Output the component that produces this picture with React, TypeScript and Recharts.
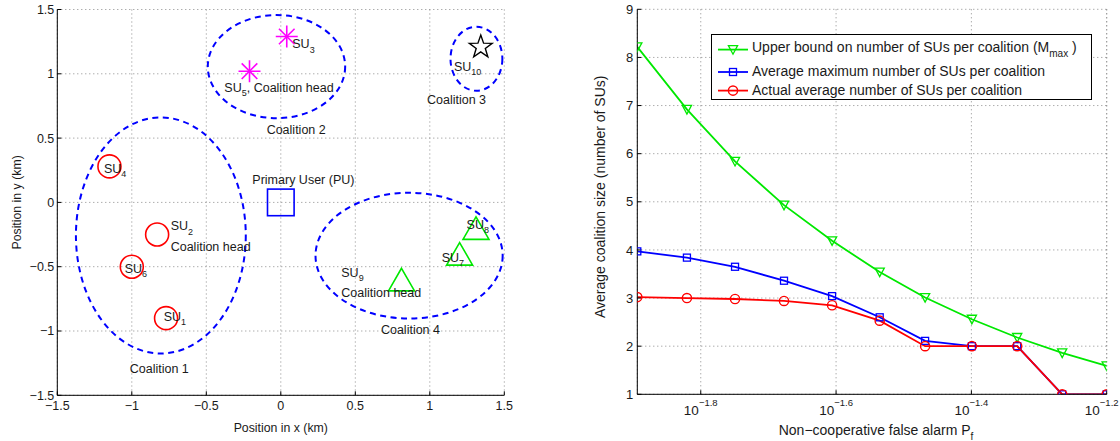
import React from "react";
import { CartesianGrid, Label, Legend, Line, LineChart, ReferenceArea, Scatter, ScatterChart, XAxis, YAxis } from "recharts";

const FONT = '"Liberation Sans", Arial, Helvetica, sans-serif';
const INK = "#1a1a1a";

// ---- left panel: SU positions in km ----
const coalition1Sus = [
  { x: -0.77, y: -0.9 },
  { x: -0.83, y: -0.25 },
  { x: -1.15, y: 0.28 },
  { x: -1.0, y: -0.5 },
];
const coalition2Sus = [
  { x: 0.04, y: 1.29 },
  { x: -0.21, y: 1.02 },
];
const coalition3Sus = [{ x: 1.342, y: 1.208 }];
const coalition4Sus = [
  { x: 1.2, y: -0.4 },
  { x: 1.31, y: -0.2 },
  { x: 0.81, y: -0.6 },
];
const primaryUser = [{ x: 0, y: 0 }];

// dashed coalition ellipses: centre and half-axes (km)
const coalitionShapes = [
  { cx: -0.805, cy: -0.257, rx: 0.57, ry: 0.918 },
  { cx: -0.029, cy: 1.056, rx: 0.461, ry: 0.401 },
  { cx: 1.313, cy: 1.117, rx: 0.174, ry: 0.249 },
  { cx: 0.861, cy: -0.414, rx: 0.628, ry: 0.489 },
];

// text annotations, anchored at text start / baseline (km)
const annotations = [
  { x: 0.077, y: 1.198, text: "SU", sub: "3" },
  { x: -0.379, y: 0.86, text: "SU", sub: "5", tail: ", Coalition head" },
  { x: 1.162, y: 1.024, text: "SU", sub: "10" },
  { x: 0.981, y: 0.762, text: "Coalition 3" },
  { x: -0.095, y: 0.529, text: "Coalition 2" },
  { x: -1.187, y: 0.23, text: "SU", sub: "4" },
  { x: -0.191, y: 0.14, text: "Primary User (PU)" },
  { x: -0.739, y: -0.216, text: "SU", sub: "2" },
  { x: -0.739, y: -0.377, text: "Coalition head" },
  { x: -1.048, y: -0.548, text: "SU", sub: "6" },
  { x: 0.406, y: -0.579, text: "SU", sub: "9" },
  { x: 0.406, y: -0.735, text: "Coalition head" },
  { x: 1.08, y: -0.462, text: "SU", sub: "7" },
  { x: 1.247, y: -0.206, text: "SU", sub: "8" },
  { x: -0.786, y: -0.922, text: "SU", sub: "1" },
  { x: 0.672, y: -1.02, text: "Coalition 4" },
  { x: -1.014, y: -1.326, text: "Coalition 1" },
];

const kmTicks = [-1.5, -1, -0.5, 0, 0.5, 1, 1.5];

// ---- right panel ----
const pf = [0.01277, 0.01512, 0.01781, 0.02104, 0.02478, 0.02914, 0.03401, 0.03988, 0.04653, 0.05423, 0.0631];
const upperBound = [8.22, 6.92, 5.84, 4.93, 4.19, 3.54, 3.01, 2.56, 2.18, 1.86, 1.59];
const avgMaxSize = [3.97, 3.84, 3.65, 3.36, 3.04, 2.6, 2.11, 2.0, 2.0, 1.0, 1.0];
const actualAvgSize = [3.02, 3.0, 2.98, 2.94, 2.85, 2.53, 2.0, 2.0, 2.0, 1.0, 1.0];
const pfTicks = [0.015849, 0.025119, 0.039811, 0.063096];
const pfTickExp = ["\u22121.8", "\u22121.6", "\u22121.4", "\u22121.2"];
const sizeTicks = [1, 2, 3, 4, 5, 6, 7, 8, 9];

const sizeData = pf.map((p, i) => ({ pf: p, upper: upperBound[i], avgMax: avgMaxSize[i], actual: actualAvgSize[i] }));

const GREEN = "#00e800";
const BLUE = "#0000ff";
const RED = "#ff0000";

const fmtKm = (v: number) => (v < 0 ? "\u2212" + Math.abs(v) : String(v));
const blank = () => "";

// ---- marker shapes ----
function RedCircle(p: any) {
  return <circle cx={p.cx} cy={p.cy} r={11.5} fill="none" stroke={RED} strokeWidth={1.6} />;
}
function Asterisk(p: any) {
  const r = 11;
  const d = 7.8;
  return (
    <g stroke="#ff00ff" strokeWidth={1.6}>
      <line x1={p.cx - r} y1={p.cy} x2={p.cx + r} y2={p.cy} />
      <line x1={p.cx} y1={p.cy - r} x2={p.cx} y2={p.cy + r} />
      <line x1={p.cx - d} y1={p.cy - d} x2={p.cx + d} y2={p.cy + d} />
      <line x1={p.cx - d} y1={p.cy + d} x2={p.cx + d} y2={p.cy - d} />
    </g>
  );
}
function Pentagram(p: any) {
  const R = 12;
  const r = 4.8;
  const pts: string[] = [];
  for (let k = 0; k < 10; k++) {
    const a = -Math.PI / 2 + (k * Math.PI) / 5;
    const rr = k % 2 === 0 ? R : r;
    pts.push(`${p.cx + rr * Math.cos(a)},${p.cy + rr * Math.sin(a)}`);
  }
  return <polygon points={pts.join(" ")} fill="none" stroke="#000" strokeWidth={1.4} />;
}
function GreenTriangle(p: any) {
  const w = 13;
  const h = 11.3;
  return (
    <polygon
      points={`${p.cx},${p.cy - h} ${p.cx - w},${p.cy + h} ${p.cx + w},${p.cy + h}`}
      fill="none"
      stroke={GREEN}
      strokeWidth={1.6}
    />
  );
}
function BlueSquare(p: any) {
  const s = 13.3;
  return <rect x={p.cx - s} y={p.cy - s} width={2 * s} height={2 * s} fill="none" stroke={BLUE} strokeWidth={1.6} />;
}
function AnnotationText(p: any) {
  const a = p.payload;
  return (
    <text x={p.cx} y={p.cy} fontFamily={FONT} fontSize={12.5} fill={INK}>
      {a.text}
      {a.sub && (
        <tspan dy={4.5} fontSize={9}>
          {a.sub}
        </tspan>
      )}
      {a.tail && <tspan dy={-4.5}>{a.tail}</tspan>}
    </text>
  );
}
function CoalitionEllipse(p: any) {
  return (
    <ellipse
      cx={p.x + p.width / 2}
      cy={p.y + p.height / 2}
      rx={Math.abs(p.width) / 2}
      ry={Math.abs(p.height) / 2}
      fill="none"
      stroke={BLUE}
      strokeWidth={2}
      strokeDasharray="6 4.5"
    />
  );
}

// line-chart markers
function downTri(color: string) {
  return (p: any) => (
    <polygon
      key={p.index}
      points={`${p.cx - 4.6},${p.cy - 4} ${p.cx + 4.6},${p.cy - 4} ${p.cx},${p.cy + 4.6}`}
      fill="none"
      stroke={color}
      strokeWidth={1.3}
    />
  );
}
function squareDot(color: string) {
  return (p: any) => <rect key={p.index} x={p.cx - 3.5} y={p.cy - 3.5} width={7} height={7} fill="none" stroke={color} strokeWidth={1.3} />;
}
function circleDot(color: string) {
  return (p: any) => <circle key={p.index} cx={p.cx} cy={p.cy} r={4.6} fill="none" stroke={color} strokeWidth={1.4} />;
}

function PowerTick(p: any) {
  const i = pfTicks.indexOf(p.payload.value);
  // the last label sits on the plot's right edge, nudge it so it stays on the page
  const dx = i === pfTicks.length - 1 ? -5 : 0;
  return (
    <text x={p.x + dx} y={p.y + 10} textAnchor="middle" fontFamily={FONT} fontSize={13.5} fill={INK}>
      <tspan>10</tspan>
      <tspan dy={-9} fontSize={9.5}>
        {pfTickExp[i]}
      </tspan>
    </text>
  );
}

const legendRows = [
  { color: GREEN, marker: "tri", text: "Upper bound on number of SUs per coalition (M", sub: "max", tail: " )", my: 14.6, ty: 17 },
  { color: BLUE, marker: "sq", text: "Average maximum number of SUs per coalition", my: 37, ty: 41.3 },
  { color: RED, marker: "ci", text: "Actual average number of SUs per coalition", my: 55.6, ty: 60.3 },
];

function SizeLegend() {
  return (
    <div style={{ width: 379, height: 64, border: "1px solid #000", background: "#fff" }}>
      <svg width={379} height={64} style={{ display: "block" }}>
        {legendRows.map((r) => (
          <g key={r.text}>
            <line x1={6} y1={r.my} x2={36} y2={r.my} stroke={r.color} strokeWidth={1.8} />
            {r.marker === "tri" && downTri(r.color)({ cx: 21, cy: r.my, index: 0 })}
            {r.marker === "sq" && squareDot(r.color)({ cx: 21, cy: r.my, index: 0 })}
            {r.marker === "ci" && circleDot(r.color)({ cx: 21, cy: r.my, index: 0 })}
            <text x={40} y={r.ty} fontFamily={FONT} fontSize={14} fill={INK}>
              {r.text}
              {r.sub && (
                <tspan dy={5} fontSize={10}>
                  {r.sub}
                </tspan>
              )}
              {r.tail && <tspan dy={-5}>{r.tail}</tspan>}
            </text>
          </g>
        ))}
      </svg>
    </div>
  );
}

const tickStyle = { fontFamily: FONT, fill: INK };

export default function App() {
  return (
    <div style={{ position: "relative", width: 1120, height: 441, background: "#fff" }}>
      <style>{`body{margin:0;background:#fff}`}</style>
      <div style={{ position: "absolute", left: 0, top: 0 }}>
        <ScatterChart width={520} height={441} margin={{ top: 9.5, right: 15.7, bottom: 0, left: 0 }}>
          <CartesianGrid stroke="#8a8a8a" strokeDasharray="1 3" />
          <XAxis
            dataKey="x"
            type="number"
            domain={[-1.5, 1.5]}
            ticks={kmTicks}
            tickFormatter={fmtKm}
            height={45.7}
            stroke="#000"
            tickSize={-4}
            tickMargin={10}
            tick={{ ...tickStyle, fontSize: 12.5 }}
            allowDataOverflow
          >
            <Label
              content={(p: any) => (
                <text x={p.viewBox.x + p.viewBox.width / 2} y={432} textAnchor="middle" fontFamily={FONT} fontSize={12.3} fill={INK}>
                  Position in x (km)
                </text>
              )}
            />
          </XAxis>
          <YAxis
            dataKey="y"
            type="number"
            domain={[-1.5, 1.5]}
            ticks={kmTicks}
            tickFormatter={fmtKm}
            width={57.3}
            stroke="#000"
            tickSize={-4}
            tickMargin={7}
            tick={{ ...tickStyle, fontSize: 12.5 }}
            allowDataOverflow
          >
            <Label
              content={(p: any) => (
                <text
                  x={21}
                  y={p.viewBox.y + p.viewBox.height / 2}
                  transform={`rotate(-90 21 ${p.viewBox.y + p.viewBox.height / 2})`}
                  textAnchor="middle"
                  fontFamily={FONT}
                  fontSize={12.3}
                  fill={INK}
                >
                  Position in y (km)
                </text>
              )}
            />
          </YAxis>
          <XAxis xAxisId="top" orientation="top" type="number" dataKey="x" domain={[-1.5, 1.5]} ticks={kmTicks} tickFormatter={blank} height={0} stroke="#000" tickSize={-4} allowDataOverflow />
          <YAxis yAxisId="right" orientation="right" type="number" dataKey="y" domain={[-1.5, 1.5]} ticks={kmTicks} tickFormatter={blank} width={0} stroke="#000" tickSize={-4} allowDataOverflow />
          {coalitionShapes.map((c, i) => (
            <ReferenceArea
              key={i}
              x1={c.cx - c.rx}
              x2={c.cx + c.rx}
              y1={c.cy - c.ry}
              y2={c.cy + c.ry}
              ifOverflow="visible"
              shape={CoalitionEllipse}
            />
          ))}
          <Scatter data={primaryUser} shape={BlueSquare} isAnimationActive={false} />
          <Scatter data={coalition1Sus} shape={RedCircle} isAnimationActive={false} />
          <Scatter data={coalition2Sus} shape={Asterisk} isAnimationActive={false} />
          <Scatter data={coalition3Sus} shape={Pentagram} isAnimationActive={false} />
          <Scatter data={coalition4Sus} shape={GreenTriangle} isAnimationActive={false} />
          <Scatter data={annotations} shape={AnnotationText} isAnimationActive={false} />
        </ScatterChart>
      </div>

      <div style={{ position: "absolute", left: 560, top: 0 }}>
        <LineChart width={560} height={441} data={sizeData} margin={{ top: 9.3, right: 13.3, bottom: 0, left: 0 }}>
          <CartesianGrid stroke="#8a8a8a" strokeDasharray="1 3" />
          <XAxis
            dataKey="pf"
            type="number"
            scale="log"
            domain={[0.01277, 0.0631]}
            ticks={pfTicks}
            interval={0}
            height={46.7}
            stroke="#000"
            tickSize={-4}
            tickMargin={15}
            tick={<PowerTick />}
            allowDataOverflow
          >
            <Label
              content={(p: any) => (
                <text x={p.viewBox.x + p.viewBox.width / 2 + 4} y={435} textAnchor="middle" fontFamily={FONT} fontSize={14} fill={INK}>
                  Non{"\u2212"}cooperative false alarm P
                  <tspan dy={5} fontSize={10}>
                    f
                  </tspan>
                </text>
              )}
            />
          </XAxis>
          <YAxis
            type="number"
            domain={[1, 9]}
            ticks={sizeTicks}
            width={77.3}
            stroke="#000"
            tickSize={-4}
            tickMargin={8}
            tick={{ ...tickStyle, fontSize: 13 }}
            allowDataOverflow
          >
            <Label
              content={(p: any) => (
                <text
                  x={45}
                  y={p.viewBox.y + p.viewBox.height / 2 - 5}
                  transform={`rotate(-90 45 ${p.viewBox.y + p.viewBox.height / 2 - 5})`}
                  textAnchor="middle"
                  fontFamily={FONT}
                  fontSize={14}
                  fill={INK}
                >
                  Average coalition size (number of SUs)
                </text>
              )}
            />
          </YAxis>
          <XAxis xAxisId="top" orientation="top" dataKey="pf" type="number" scale="log" domain={[0.01277, 0.0631]} ticks={pfTicks} tickFormatter={blank} height={0} stroke="#000" tickSize={-4} allowDataOverflow />
          <YAxis yAxisId="right" orientation="right" type="number" domain={[1, 9]} ticks={sizeTicks} tickFormatter={blank} width={0} stroke="#000" tickSize={-4} allowDataOverflow />
          <Legend
            layout="vertical"
            align="center"
            verticalAlign="middle"
            content={() => <SizeLegend />}
            wrapperStyle={{ left: 150.7, top: 33.7, width: 381, height: 66 }}
          />
          <Line type="linear" dataKey="upper" stroke={GREEN} strokeWidth={1.8} dot={downTri(GREEN)} isAnimationActive={false} />
          <Line type="linear" dataKey="avgMax" stroke={BLUE} strokeWidth={1.8} dot={squareDot(BLUE)} isAnimationActive={false} />
          <Line type="linear" dataKey="actual" stroke={RED} strokeWidth={1.8} dot={circleDot(RED)} isAnimationActive={false} />
        </LineChart>
      </div>
    </div>
  );
}
